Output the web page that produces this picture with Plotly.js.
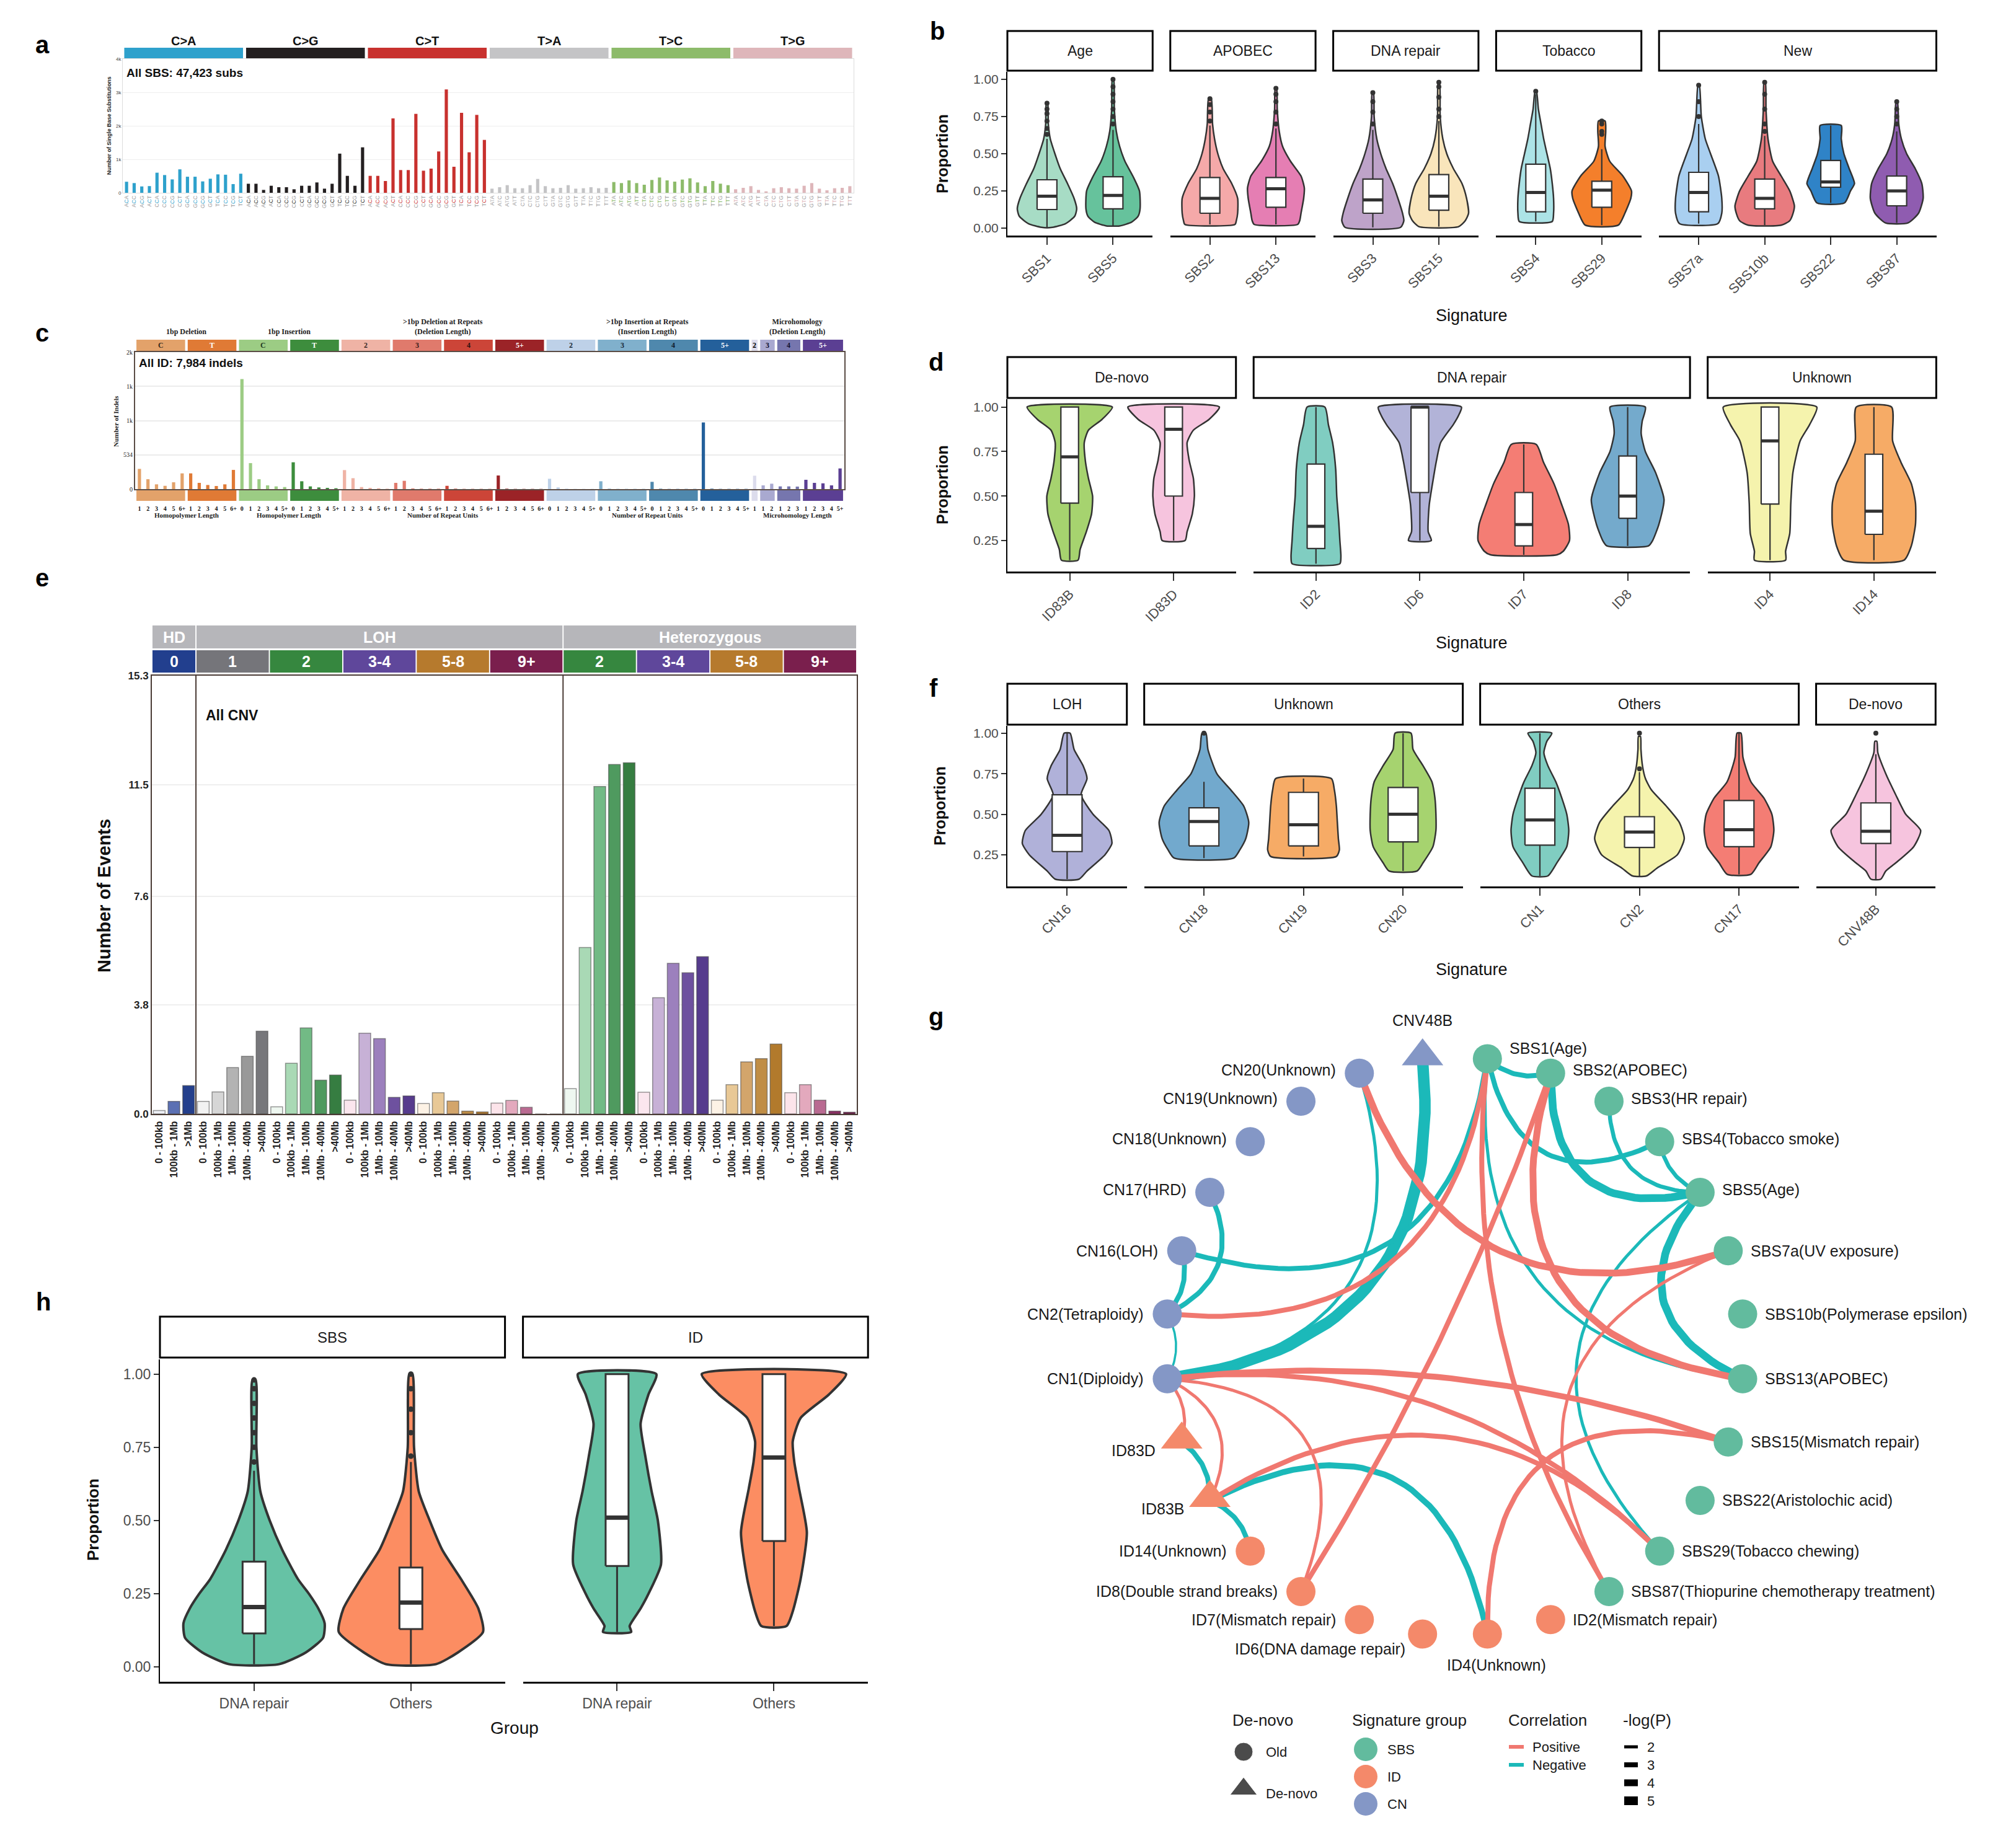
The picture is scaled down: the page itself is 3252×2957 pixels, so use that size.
<!DOCTYPE html>
<html><head><meta charset="utf-8">
<script src="https://cdn.plot.ly/plotly-3.0.1.min.js"></script>
<style>html,body{margin:0;padding:0;background:#fff}</style>
</head><body>
<div id="fig" style="width:3252px;height:2957px"></div>
<script>
// ======================= DATA =======================
// Panel a : SBS96 profile (counts)
const sbsTypes=['C>A','C>G','C>T','T>A','T>C','T>G'];
const sbsColors=['#2ea1cc','#231f20','#c8312e','#c4c4c6','#8dbb6a','#deb6ba'];
const sbsCA=[330,290,190,200,600,530,400,700,480,480,340,420,550,540,260,570];
const sbsCG=[270,270,86,210,167,167,105,210,210,309,123,270,1170,506,210,1358];
const sbsCT=[506,506,352,2222,679,679,2358,660,722,1235,3086,778,2389,1210,2327,1580];
const sbsTA=[123,167,228,136,136,228,414,198,136,148,228,123,136,167,136,148];
const sbsTC=[321,290,370,290,241,383,457,370,333,395,432,309,198,352,272,228];
const sbsTG=[105,148,198,86,43,136,167,136,123,210,290,123,74,136,148,198];
const bases=['A','C','G','T'];

// Panel c : ID83 profile (counts)
const idGroupLabels=['C','T','C','T','2','3','4','5+','2','3','4','5+','2','3','4','5+'];
const idGroupColors=['#e3a26a','#e07a35','#9ccc84','#3d8d3d','#efb3a5','#e07a6c','#cc4538','#9b2327','#bed1e8','#80b0cc','#4f88ad','#24609b','#dcdcec','#a9a9d0','#7676ae','#5b3f93'];
const idGroupTextColors=['#3a2a1a','#ffffff','#1f3a1f','#ffffff','#3a2a2a','#3a1a1a','#2a1010','#ffffff','#1a2a3a','#1a2a3a','#101a2a','#ffffff','#000000','#101030','#101030','#ffffff'];
const idDelC=[315,154,74,51,106,245];
const idDelT=[245,97,64,48,74,299];
const idInsC=[1715,405,154,58,42,32];
const idInsT=[418,122,42,26,19,13];
const idDelR2=[296,170,32,19,13,6];
const idDelR3=[97,129,10,6,6,6];
const idDelR4=[51,6,3,3,3,3];
const idDelR5=[212,6,3,3,3,3];
const idInsR2=[161,26,6,3,3,3];
const idInsR3=[122,6,3,3,3,3];
const idInsR4=[113,6,3,3,3,3];
const idInsR5=[1039,6,3,3,3,3];
const idMH2=[209];
const idMH3=[58,84];
const idMH4=[42,42,39];
const idMH5=[145,97,90,58,322];
const idTickDel=['1','2','3','4','5','6+'];
const idTickIns=['0','1','2','3','4','5+'];
const idTickMH=[['1'],['1','2'],['1','2','3'],['1','2','3','4','5+']];
const idHeaders=['1bp Deletion','1bp Insertion','>1bp Deletion at Repeats<br>(Deletion Length)','>1bp Insertion at Repeats<br>(Insertion Length)','Microhomology<br>(Deletion Length)'];
const idFooters=['Homopolymer Length','Homopolymer Length','Number of Repeat Units','Number of Repeat Units','Microhomology Length'];
const idYTickVals=[0,534,1068,1602,2136];
const idYTickText=['0','534','1k','1k','2k'];

// Panel e : CNV48 profile (events)
const cnvTop=['HD','LOH','Heterozygous'];
const cnvTopSizes=[1,5,4];
const cnvCN=['0','1','2','3-4','5-8','9+','2','3-4','5-8','9+'];
const cnvCNColors=['#223f8e','#75757a','#36873f','#5f479b','#b67a2d','#7a1f4d','#36873f','#5f479b','#b67a2d','#7a1f4d'];
const cnvHD=[0.12,0.44,0.99];
const cnvLOH1=[0.44,0.77,1.62,2.01,2.89];
const cnvLOH2=[0.25,1.77,3.0,1.18,1.36];
const cnvLOH34=[0.48,2.82,2.63,0.58,0.63];
const cnvLOH58=[0.36,0.74,0.45,0.10,0.07];
const cnvLOH9=[0.38,0.47,0.23,0,0];
const cnvHet2=[0.88,5.81,11.43,12.2,12.26];
const cnvHet34=[0.76,4.06,5.26,4.93,5.49];
const cnvHet58=[0.48,1.02,1.82,1.93,2.44];
const cnvHet9=[0.74,1.02,0.48,0.10,0.06];
const cnvShHD=['#eef0f6','#5b70b3','#243f8c'];
const cnvShGrey=['#f2f2f2','#d6d6d6','#b3b3b3','#999999','#77777b'];
const cnvShGreen=['#eef7f0','#a9d9b5','#72ba85','#4f9a5f','#367d41'];
const cnvShPurple=['#fbe6ee','#c7b1d6','#9c80bd','#6e519f','#563b8d'];
const cnvShOrange=['#fdf2e5','#e8c896','#d3a56b','#c08d45','#b27a2c'];
const cnvShMaroon=['#fce4ea','#e3a9bd','#b96a91','#8a2e62','#6e1a48'];
const cnvSizesHD=['0 - 100kb','100kb - 1Mb','>1Mb'];
const cnvSizes=['0 - 100kb','100kb - 1Mb','1Mb - 10Mb','10Mb - 40Mb','>40Mb'];
const cnvYTicks=[0,3.8,7.6,11.5,15.3];

// Panel b : SBS signature proportions (violin outlines)
const bGroups=['Age','APOBEC','DNA repair','Tobacco','New'];
const bSizes=[2,2,2,2,4];
const bNames=['SBS1','SBS5','SBS2','SBS13','SBS3','SBS15','SBS4','SBS29','SBS7a','SBS10b','SBS22','SBS87'];
const bFill=['#a7dcc5','#66c29c','#f5a9a9','#e57eb3','#bea3c9','#f9e5bb','#ace3e6','#f47f2b','#a9cff0','#e87b7f','#2f83c7','#8f5cb0'];
const bProfY=[
 [0.005,0.03,0.08,0.13,0.2,0.3,0.4,0.5,0.6,0.7,0.84],
 [0.015,0.04,0.08,0.13,0.25,0.35,0.45,0.55,0.65,0.8,1.0],
 [0.025,0.05,0.1,0.2,0.3,0.4,0.5,0.6,0.7,0.87],
 [0.025,0.05,0.1,0.2,0.27,0.35,0.45,0.55,0.65,0.8,0.94],
 [0.005,0.05,0.1,0.2,0.3,0.4,0.5,0.6,0.75,0.91],
 [0.01,0.05,0.1,0.2,0.3,0.4,0.5,0.6,0.75,0.98],
 [0.045,0.1,0.2,0.3,0.4,0.5,0.6,0.7,0.8,0.92],
 [0.02,0.1,0.2,0.25,0.35,0.45,0.55,0.65,0.72],
 [0.03,0.1,0.2,0.35,0.5,0.6,0.75,0.96],
 [0.02,0.05,0.1,0.15,0.25,0.35,0.45,0.6,0.8,0.98],
 [0.17,0.25,0.3,0.4,0.5,0.6,0.69],
 [0.035,0.1,0.2,0.3,0.4,0.5,0.6,0.7,0.85]];
const bProfW=[
 [0.08,0.28,0.42,0.45,0.41,0.31,0.2,0.12,0.05,0.02,0.01],
 [0.1,0.28,0.38,0.41,0.4,0.3,0.18,0.1,0.05,0.02,0.01],
 [0.38,0.4,0.42,0.42,0.33,0.2,0.12,0.07,0.04,0.02],
 [0.33,0.36,0.38,0.42,0.43,0.38,0.22,0.1,0.05,0.02,0.01],
 [0.42,0.47,0.45,0.38,0.3,0.2,0.12,0.06,0.02,0.01],
 [0.3,0.4,0.45,0.42,0.35,0.22,0.12,0.06,0.02,0.01],
 [0.25,0.27,0.27,0.25,0.22,0.17,0.12,0.08,0.04,0.01],
 [0.25,0.35,0.44,0.45,0.32,0.12,0.05,0.06,0.05],
 [0.29,0.35,0.35,0.3,0.18,0.1,0.04,0.01],
 [0.25,0.38,0.43,0.45,0.38,0.25,0.12,0.05,0.02,0.01],
 [0.21,0.3,0.36,0.28,0.2,0.16,0.16],
 [0.17,0.33,0.4,0.38,0.28,0.15,0.07,0.03,0.01]];
const bBox=[[0.005,0.125,0.215,0.325,0.6],[0.015,0.13,0.22,0.345,0.66],[0.025,0.1,0.2,0.34,0.69],[0.025,0.14,0.265,0.34,0.67],[0.005,0.1,0.19,0.33,0.66],[0.01,0.12,0.215,0.36,0.72],[0.045,0.11,0.24,0.43,0.9],[0.02,0.14,0.255,0.315,0.53],[0.03,0.11,0.24,0.375,0.7],[0.02,0.13,0.2,0.33,0.62],[0.17,0.275,0.31,0.455,0.69],[0.035,0.15,0.25,0.35,0.65]];
const bOut=[[0.63,0.67,0.72,0.77,0.8,0.84],[0.7,0.75,0.8,0.85,0.9,0.95,1.0],[0.72,0.78,0.83,0.87],[0.7,0.78,0.85,0.9,0.94],[0.7,0.78,0.85,0.91],[0.75,0.8,0.88,0.95,0.98],[0.92],[0.63,0.65,0.7,0.72],[0.75,0.85,0.96],[0.65,0.7,0.8,0.9,0.98],[],[0.7,0.75,0.8,0.85]];

// Panel d : ID signature proportions
const dGroups=['De-novo','DNA repair','Unknown'];
const dSizes=[2,4,2];
const dNames=['ID83B','ID83D','ID2','ID6','ID7','ID8','ID4','ID14'];
const dFill=['#a6d36f','#f6c4de','#80cdc1','#b2b3d8','#f47d74','#74aacc','#f5f3ad','#f6ab66'];
const dProfY=[
 [0.14,0.2,0.3,0.4,0.5,0.6,0.7,0.8,0.87,0.93,1.0],
 [0.25,0.3,0.4,0.5,0.6,0.7,0.8,0.87,0.93,1.0],
 [0.12,0.16,0.25,0.35,0.5,0.65,0.8,0.9,1.0],
 [0.25,0.3,0.45,0.6,0.7,0.8,0.9,0.95,1.0],
 [0.17,0.19,0.25,0.34,0.46,0.57,0.69,0.79],
 [0.22,0.25,0.34,0.48,0.63,0.75,0.85,0.92,1.0],
 [0.14,0.19,0.29,0.46,0.63,0.81,0.9,1.0],
 [0.14,0.22,0.34,0.46,0.57,0.69,0.81,1.0]];
const dProfW=[
 [0.08,0.1,0.16,0.21,0.22,0.18,0.15,0.14,0.18,0.31,0.41],
 [0.11,0.13,0.18,0.2,0.19,0.15,0.13,0.19,0.34,0.44],
 [0.23,0.24,0.23,0.22,0.2,0.19,0.16,0.12,0.085],
 [0.11,0.08,0.09,0.13,0.16,0.2,0.32,0.37,0.4],
 [0.32,0.38,0.44,0.43,0.36,0.29,0.19,0.12],
 [0.2,0.24,0.3,0.35,0.27,0.17,0.13,0.14,0.17],
 [0.15,0.15,0.19,0.2,0.22,0.29,0.38,0.45],
 [0.29,0.36,0.4,0.4,0.36,0.26,0.18,0.17]];
const dBox=[[0.14,0.46,0.72,1,1],[0.25,0.5,0.875,1,1],[0.12,0.205,0.33,0.68,1],[0.25,0.52,1,1,1],[0.17,0.22,0.34,0.52,0.79],[0.22,0.375,0.5,0.725,1],[0.14,0.455,0.81,1,1],[0.14,0.285,0.415,0.735,1]];
const dOut=[[],[],[],[],[],[],[],[]];

// Panel f : CN signature proportions
const fGroups=['LOH','Unknown','Others','De-novo'];
const fSizes=[1,3,3,1];
const fNames=['CN16','CN18','CN19','CN20','CN1','CN2','CN17','CNV48B'];
const fFill=['#b0b1d9','#72a9cd','#f6ab66','#a6d36f','#80cdc1','#f5f3ad','#f47d74','#f6c4de'];
const fProfY=[
 [0.1,0.15,0.25,0.32,0.4,0.5,0.62,0.72,0.8,0.9,1.0],
 [0.23,0.28,0.35,0.45,0.55,0.65,0.75,0.9,1.0],
 [0.24,0.28,0.35,0.45,0.55,0.65,0.72],
 [0.15,0.2,0.3,0.4,0.5,0.6,0.7,0.8,0.9,1.0],
 [0.12,0.2,0.3,0.4,0.5,0.6,0.7,0.8,0.88,0.95,1.0],
 [0.12,0.17,0.25,0.35,0.45,0.55,0.65,0.72,0.8,0.9,0.98],
 [0.13,0.2,0.3,0.4,0.5,0.6,0.7,0.85,1.0],
 [0.1,0.15,0.2,0.3,0.4,0.5,0.62,0.75,0.88,0.95]];
const fProfW=[
 [0.12,0.2,0.38,0.45,0.42,0.26,0.14,0.2,0.16,0.07,0.03],
 [0.3,0.36,0.42,0.45,0.4,0.27,0.13,0.04,0.02],
 [0.33,0.36,0.35,0.34,0.33,0.31,0.28],
 [0.14,0.2,0.3,0.33,0.33,0.32,0.29,0.2,0.1,0.08],
 [0.08,0.17,0.27,0.29,0.27,0.22,0.16,0.08,0.04,0.07,0.12],
 [0.07,0.18,0.38,0.45,0.4,0.27,0.12,0.06,0.03,0.015,0.01],
 [0.12,0.2,0.32,0.35,0.33,0.25,0.12,0.04,0.02],
 [0.05,0.1,0.2,0.38,0.45,0.3,0.2,0.1,0.02,0.01]];
const fBox=[[0.1,0.27,0.37,0.62,1],[0.23,0.305,0.455,0.54,0.7],[0.24,0.305,0.435,0.635,0.72],[0.15,0.33,0.5,0.665,1],[0.12,0.31,0.465,0.66,1],[0.12,0.295,0.39,0.485,0.76],[0.13,0.3,0.405,0.585,1],[0.1,0.32,0.395,0.57,0.87]];
const fOut=[[],[1.0],[],[],[],[0.78,1.0],[],[1.0]];

// Panel h : DNA repair vs others
const hGroups=['SBS','ID'];
const hSizes=[2,2];
const hNames=['DNA repair','Others','DNA repair','Others'];
const hFill=['#66c2a5','#fc8d62','#66c2a5','#fc8d62'];
const hProfY=[
 [0.01,0.05,0.1,0.15,0.2,0.25,0.3,0.4,0.5,0.6,0.75,0.98],
 [0.01,0.05,0.12,0.2,0.3,0.4,0.5,0.6,0.75,1.0],
 [0.12,0.14,0.2,0.25,0.35,0.5,0.6,0.72,0.83,0.93,1.0],
 [0.14,0.19,0.3,0.46,0.61,0.7,0.77,0.85,0.93,1.0]];
const hProfW=[
 [0.16,0.33,0.44,0.45,0.41,0.35,0.28,0.18,0.1,0.04,0.015,0.01],
 [0.16,0.3,0.46,0.43,0.32,0.2,0.12,0.05,0.02,0.01],
 [0.09,0.08,0.15,0.2,0.28,0.26,0.22,0.18,0.15,0.2,0.25],
 [0.08,0.12,0.17,0.21,0.16,0.13,0.12,0.17,0.35,0.46]];
const hBox=[[0.01,0.115,0.205,0.36,0.67],[0.01,0.13,0.22,0.34,0.7],[0.12,0.345,0.51,1,1],[0.14,0.43,0.715,1,1]];
const hOut=[[0.7,0.75,0.8,0.85,0.9,0.95,0.98],[0.72,0.8,0.88,0.95,1.0],[],[]];

// Panel g : correlation network
const gIds=['SBS1','SBS2','SBS3','SBS4','SBS5','SBS7a','SBS10b','SBS13','SBS15','SBS22','SBS29','SBS87','ID2','ID4','ID6','ID7','ID8','ID14','ID83B','ID83D','CN1','CN2','CN16','CN17','CN18','CN19','CN20','CNV48B'];
const gLabels=['SBS1(Age)','SBS2(APOBEC)','SBS3(HR repair)','SBS4(Tobacco smoke)','SBS5(Age)','SBS7a(UV exposure)','SBS10b(Polymerase epsilon)','SBS13(APOBEC)','SBS15(Mismatch repair)','SBS22(Aristolochic acid)','SBS29(Tobacco chewing)','SBS87(Thiopurine chemotherapy treatment)','ID2(Mismatch repair)','ID4(Unknown)','ID6(DNA damage repair)','ID7(Mismatch repair)','ID8(Double strand breaks)','ID14(Unknown)','ID83B','ID83D','CN1(Diploidy)','CN2(Tetraploidy)','CN16(LOH)','CN17(HRD)','CN18(Unknown)','CN19(Unknown)','CN20(Unknown)','CNV48B'];
const gDeNovo=['ID83B','ID83D','CNV48B'];
const edgeFrom=['SBS1','CN1','CN20','SBS1','CN17','CN16','CN2','SBS1','SBS3','SBS4','SBS2','SBS5','SBS5','SBS1','ID83D','ID83B','ID83B','CN20','CN2','SBS2','SBS1','SBS2','CN1','CN1','CN1','CN1','CN1','ID83B','ID4','SBS7a'];
const edgeTo=['SBS2','CNV48B','CN1','CN16','CN2','CN2','CN1','SBS4','SBS5','SBS5','SBS5','SBS13','SBS29','SBS13','ID83B','ID14','ID4','SBS7a','SBS1','ID8','SBS87','SBS13','SBS15','SBS29','ID83D','ID83B','ID8','SBS29','SBS15','SBS87'];
const edgeSign=[-1,-1,-1,-1,-1,-1,-1,-1,-1,-1,-1,-1,-1,-1,-1,-1,-1,1,1,1,1,1,1,1,1,1,1,1,1,1];
const edgeLogP=[3,6.5,2,3,3,3,1.5,3,2.5,2.5,4.5,4.5,2,2,3,3,3.5,4,3,3,3,4,3.5,3,2,2,2,3,3,2];
const logPLegend=[2,3,4,5];

// ======================= BUILD =======================
const W=3252,H=2957;
const FONT='Liberation Sans, Arial, Helvetica, sans-serif';
const SERIF='Liberation Serif, Times New Roman, serif';
const px=x=>x/W, py=y=>1-y/H;
const layout={width:W,height:H,margin:{l:0,r:0,t:0,b:0,pad:0},paper_bgcolor:'#fff',plot_bgcolor:'rgba(0,0,0,0)',showlegend:false,barmode:'overlay',font:{family:FONT,color:'#1a1a1a'},shapes:[],annotations:[]};
const traces=[];
let nX=0,nY=0;
function key(id){return (id[0]==='x'?'xaxis':'yaxis')+id.slice(1);}
function newY(o){nY++;const id='y'+(nY===1?'':nY);layout[key(id)]=Object.assign({fixedrange:true,showgrid:false,zeroline:false,autorange:false},o);return id;}
function newX(o){nX++;const id='x'+(nX===1?'':nX);layout[key(id)]=Object.assign({fixedrange:true,showgrid:false,zeroline:false,autorange:false},o);return id;}
function ann(x,y,text,o){layout.annotations.push(Object.assign({xref:'paper',yref:'paper',x:px(x),y:py(y),text:text,showarrow:false,xanchor:'center',yanchor:'middle',font:{size:20,family:FONT,color:'#1a1a1a'}},o||{}));}
function annA(o){layout.annotations.push(Object.assign({showarrow:false,xanchor:'center',yanchor:'middle'},o));}
function rectP(x0,x1,y0,y1,fill,line,lw){layout.shapes.push({type:'rect',xref:'paper',yref:'paper',x0:px(x0),x1:px(x1),y0:py(y1),y1:py(y0),fillcolor:fill,line:{color:line||fill,width:lw||0}});}

// panel letters
[['a',68,72],['b',1512,50],['c',68,537],['d',1510,584],['e',68,932],['f',1506,1110],['g',1510,1640],['h',70,2100]].forEach(l=>ann(l[1],l[2],'<b>'+l[0]+'</b>',{font:{size:40,family:FONT,color:'#000'}}));

// ---------- Panel a ----------
(function(){
  const sbsVals=[sbsCA,sbsCG,sbsCT,sbsTA,sbsTC,sbsTG];
  const tv=[],tt=[];
  const ya=newY({domain:[py(311),py(95)],range:[0,4000],tickvals:[0,1000,2000,3000,4000],ticktext:['0','1k','2k','3k','4k'],tickfont:{size:8,color:'#444'},showgrid:true,gridcolor:'#eeeeee',showline:true,mirror:true,linecolor:'#dcdcdc',linewidth:1,ticks:''});
  const xa=newX({domain:[px(198),px(1377)],range:[-0.5,95.5],anchor:ya,tickmode:'array',tickvals:tv,ticktext:tt,tickangle:-90,tickfont:{size:9,color:'#9a9a9a'},showline:true,mirror:true,linecolor:'#dcdcdc',linewidth:1,ticks:''});
  layout[key(ya)].anchor=xa;
  sbsTypes.forEach((t,ti)=>{
    const ref=t[0],xs=[];let c=0;
    bases.forEach(b5=>bases.forEach(b3=>{
      const xv=ti*16+c;xs.push(xv);tv.push(xv);
      tt.push(b5+'<span style="color:'+sbsColors[ti]+'">'+ref+'</span>'+b3);c++;
    }));
    traces.push({type:'bar',x:xs,y:sbsVals[ti],xaxis:xa,yaxis:ya,width:0.42,marker:{color:sbsColors[ti],line:{width:0}},hoverinfo:'skip'});
    layout.shapes.push({type:'rect',xref:xa,yref:'paper',x0:ti*16-0.5+0.2,x1:ti*16+15.5-0.2,y0:py(94),y1:py(77),fillcolor:sbsColors[ti],line:{width:0}});
    annA({xref:xa,yref:'paper',x:ti*16+7.5,y:py(66),text:'<b>'+t+'</b>',font:{size:20,family:FONT,color:'#111'}});
  });
  ann(202,118,'<b>All SBS: 47,423 subs</b>',{xanchor:'left',font:{size:19,family:FONT,color:'#111'}});
  ann(176,203,'<b>Number of Single Base Substitutions</b>',{textangle:-90,font:{size:9,family:FONT,color:'#222'}});
})();

// ---------- Panel c ----------
(function(){
  const groups=[idDelC,idDelT,idInsC,idInsT,idDelR2,idDelR3,idDelR4,idDelR5,idInsR2,idInsR3,idInsR4,idInsR5,idMH2,idMH3,idMH4,idMH5];
  const tickSets=[idTickDel,idTickDel,idTickIns,idTickIns,idTickDel,idTickDel,idTickDel,idTickDel,idTickIns,idTickIns,idTickIns,idTickIns].concat(idTickMH);
  const tv=[],tt=[];
  const yc=newY({domain:[py(789),py(568)],range:[0,2136],tickvals:idYTickVals,ticktext:idYTickText,tickfont:{size:10,family:SERIF,color:'#222'},showgrid:true,gridcolor:'#ececec',gridwidth:2,showline:true,mirror:true,linecolor:'#5b4d46',linewidth:2,ticks:''});
  const xc=newX({domain:[px(218),px(1362)],range:[-0.5,82.5],anchor:yc,tickmode:'array',tickvals:tv,ticktext:tt,tickfont:{size:10,family:SERIF,color:'#111'},showline:true,mirror:true,linecolor:'#5b4d46',linewidth:2,ticks:'outside',ticklen:21,tickcolor:'rgba(0,0,0,0)'});
  layout[key(yc)].anchor=xc;
  let k=0;const starts=[];
  groups.forEach((g,gi)=>{
    const xs=g.map((_,i)=>k+i);starts.push(k);
    xs.forEach((xv,i)=>{tv.push(xv);tt.push('<b>'+tickSets[gi][i]+'</b>');});
    traces.push({type:'bar',x:xs,y:g,xaxis:xc,yaxis:yc,width:0.38,marker:{color:idGroupColors[gi],line:{width:0}},hoverinfo:'skip'});
    const x0=k-0.5+0.15,x1=k+g.length-0.5-0.15;
    layout.shapes.push({type:'rect',xref:xc,yref:'paper',x0:x0,x1:x1,y0:py(566),y1:py(548),fillcolor:idGroupColors[gi],line:{width:0}});
    layout.shapes.push({type:'rect',xref:xc,yref:'paper',x0:x0,x1:x1,y0:py(808),y1:py(791),fillcolor:idGroupColors[gi],line:{width:0}});
    annA({xref:xc,yref:'paper',x:(x0+x1)/2,y:py(557),text:'<b>'+idGroupLabels[gi]+'</b>',font:{size:12,family:SERIF,color:idGroupTextColors[gi]}});
    k+=g.length;
  });
  const hdrCenters=[(starts[0]+starts[2]-1)/2,(starts[2]+starts[4]-1)/2,(starts[4]+starts[8]-1)/2,(starts[8]+starts[12]-1)/2,(starts[12]+k-1)/2];
  idHeaders.forEach((h,i)=>annA({xref:xc,yref:'paper',x:hdrCenters[i],y:py(544),yanchor:'bottom',text:'<b>'+h+'</b>',font:{size:12,family:SERIF,color:'#222'}}));
  idFooters.forEach((h,i)=>annA({xref:xc,yref:'paper',x:hdrCenters[i],y:py(831),text:'<b>'+h+'</b>',font:{size:11,family:SERIF,color:'#222'}}));
  ann(222,585,'<b>All ID: 7,984 indels</b>',{xanchor:'left',font:{size:19,family:FONT,color:'#111'}});
  ann(187,680,'<b>Number of Indels</b>',{textangle:-90,font:{size:11,family:SERIF,color:'#222'}});
})();

// ---------- Panel e ----------
(function(){
  const groups=[cnvHD,cnvLOH1,cnvLOH2,cnvLOH34,cnvLOH58,cnvLOH9,cnvHet2,cnvHet34,cnvHet58,cnvHet9];
  const shades=[cnvShHD,cnvShGrey,cnvShGreen,cnvShPurple,cnvShOrange,cnvShMaroon,cnvShGreen,cnvShPurple,cnvShOrange,cnvShMaroon];
  const tv=[],tt=[];
  const ye=newY({domain:[py(1797),py(1090)],range:[0,15.3],tickvals:cnvYTicks,ticktext:cnvYTicks.map(v=>'<b>'+v.toFixed(1)+'</b>'),tickfont:{size:17,family:FONT,color:'#222'},showgrid:true,gridcolor:'#efefef',gridwidth:2,showline:true,mirror:true,linecolor:'#4a3b35',linewidth:2,ticks:''});
  const xe=newX({domain:[px(245),px(1382)],range:[-0.5,47.5],anchor:ye,tickmode:'array',tickvals:tv,ticktext:tt,tickangle:-90,tickfont:{size:16,family:FONT,color:'#222'},showline:true,mirror:true,linecolor:'#4a3b35',linewidth:2,ticks:'outside',ticklen:3,tickcolor:'rgba(0,0,0,0)'});
  layout[key(ye)].anchor=xe;
  let k=0;const gStart=[];
  groups.forEach((g,gi)=>{
    const xs=g.map((_,i)=>k+i);gStart.push(k);
    const labs=g.length===3?cnvSizesHD:cnvSizes;
    xs.forEach((xv,i)=>{tv.push(xv);tt.push('<b>'+labs[i]+'</b>');});
    traces.push({type:'bar',x:xs,y:g,xaxis:xe,yaxis:ye,width:0.8,marker:{color:shades[gi],line:{width:1.5,color:'rgba(70,70,70,0.55)'}},hoverinfo:'skip'});
    layout.shapes.push({type:'rect',xref:xe,yref:'paper',x0:k-0.5+0.04,x1:k+g.length-0.5-0.04,y0:py(1085),y1:py(1049),fillcolor:cnvCNColors[gi],line:{width:0}});
    annA({xref:xe,yref:'paper',x:k+(g.length-1)/2,y:py(1067),text:'<b>'+cnvCN[gi]+'</b>',font:{size:25,family:FONT,color:'#fff'}});
    k+=g.length;
  });
  let gi=0;
  cnvTop.forEach((t,ti)=>{
    const a=gStart[gi],bEnd=(gi+cnvTopSizes[ti]<groups.length?gStart[gi+cnvTopSizes[ti]]:k);
    layout.shapes.push({type:'rect',xref:xe,yref:'paper',x0:a-0.5+0.04,x1:bEnd-0.5-0.04,y0:py(1046),y1:py(1009),fillcolor:'#b6b6ba',line:{width:0}});
    annA({xref:xe,yref:'paper',x:(a+bEnd-1)/2,y:py(1028),text:'<b>'+t+'</b>',font:{size:25,family:FONT,color:'#fff'}});
    if(ti>0) layout.shapes.push({type:'line',xref:xe,yref:'paper',x0:a-0.5,x1:a-0.5,y0:py(1797),y1:py(1090),line:{color:'#4a3b35',width:2}});
    gi+=cnvTopSizes[ti];
  });
  ann(330,1154,'<b>All CNV</b>',{xanchor:'left',font:{size:23,family:FONT,color:'#111'}});
  ann(168,1445,'<b>Number of Events</b>',{textangle:-90,font:{size:29,family:FONT,color:'#111'}});
})();

// ---------- violin helpers ----------
function drawViolin(xid,yid,pos,Y,Wd,fill,lw){
  const xs=[],ys=[];
  for(let i=0;i<Y.length;i++){xs.push(pos+Wd[i]);ys.push(Y[i]);}
  for(let i=Y.length-1;i>=0;i--){xs.push(pos-Wd[i]);ys.push(Y[i]);}
  xs.push(xs[0]);ys.push(ys[0]);
  traces.push({type:'scatter',mode:'lines',x:xs,y:ys,xaxis:xid,yaxis:yid,fill:'toself',fillcolor:fill,line:{color:'#333',width:lw,shape:'spline',smoothing:0.6},hoverinfo:'skip'});
}
function drawBox(xid,yid,pos,b,hw,lw,mw){
  traces.push({type:'scatter',mode:'lines',x:[pos,pos,null,pos,pos],y:[b[0],b[1],null,b[3],b[4]],xaxis:xid,yaxis:yid,line:{color:'#333',width:lw},hoverinfo:'skip'});
  traces.push({type:'scatter',mode:'lines',x:[pos-hw,pos+hw,pos+hw,pos-hw,pos-hw],y:[b[1],b[1],b[3],b[3],b[1]],xaxis:xid,yaxis:yid,fill:'toself',fillcolor:'#fff',line:{color:'#333',width:lw},hoverinfo:'skip'});
  traces.push({type:'scatter',mode:'lines',x:[pos-hw,pos+hw],y:[b[2],b[2]],xaxis:xid,yaxis:yid,line:{color:'#333',width:mw},hoverinfo:'skip'});
}
function violinPanel(o){
  const yid=newY({domain:[py(o.yBot),py(o.yTop)],range:o.yRange,tickvals:[0,0.25,0.5,0.75,1],ticktext:['0.00','0.25','0.50','0.75','1.00'],ticks:'outside',ticklen:8,tickwidth:2,tickcolor:'#333',tickfont:{size:o.ytSize,family:FONT,color:'#4d4d4d'},showline:true,linecolor:'#000',linewidth:2});
  let left=o.x0,k=0;
  o.groups.forEach((g,gi)=>{
    const n=o.sizes[gi],wpx=(n+0.2)*o.unit;
    const names=o.names.slice(k,k+n);
    const xid=newX({domain:[px(left),px(left+wpx)],range:[0.4,n+0.6],anchor:yid,tickmode:'array',tickvals:names.map((_,i)=>i+1),ticktext:names,tickangle:o.tickAngle,ticks:'outside',ticklen:12,tickwidth:2,tickcolor:'#333',tickfont:{size:o.xtSize,family:FONT,color:'#4d4d4d'},showline:true,linecolor:'#000',linewidth:o.xlw});
    if(gi===0) layout[key(yid)].anchor=xid;
    for(let i=0;i<n;i++){
      const j=k+i,pos=i+1;
      drawViolin(xid,yid,pos,o.profY[j],o.profW[j],o.fill[j],o.vlw);
      drawBox(xid,yid,pos,o.box[j],o.boxHW,o.blw,o.mw);
      if(o.out[j].length) traces.push({type:'scatter',mode:'markers',x:o.out[j].map(()=>pos),y:o.out[j],xaxis:xid,yaxis:yid,marker:{color:'#333',size:o.outSize},hoverinfo:'skip'});
    }
    rectP(left,left+wpx,o.stripTop,o.stripBot,'#fff','#000',3);
    ann(left+wpx/2,(o.stripTop+o.stripBot)/2,g,{font:{size:o.stripSize,family:FONT,color:'#1a1a1a'}});
    left+=wpx+o.gap;k+=n;
  });
  ann(o.yTitleX,o.yTitleY,'<b>Proportion</b>',{textangle:-90,font:{size:o.titleSize,family:FONT,color:'#111'}});
  ann(o.xTitleX,o.xTitleY,o.xTitle,{font:{size:o.titleSize+2,family:FONT,color:'#111'}});
}
violinPanel({groups:bGroups,sizes:bSizes,names:bNames,fill:bFill,profY:bProfY,profW:bProfW,box:bBox,out:bOut,x0:1625,unit:106.5,gap:28.5,yTop:116,yBot:380,yRange:[-0.05,1.05],stripTop:50,stripBot:114,ytSize:21,xtSize:22,tickAngle:-45,xlw:3,vlw:2.5,boxHW:0.15,blw:2.2,mw:5,outSize:8,stripSize:23,yTitleX:1520,yTitleY:248,xTitleX:2374,xTitleY:509,xTitle:'Signature',titleSize:25});
violinPanel({groups:dGroups,sizes:dSizes,names:dNames,fill:dFill,profY:dProfY,profW:dProfW,box:dBox,out:dOut,x0:1625,unit:167.6,gap:28.5,yTop:644,yBot:922,yRange:[0.076,1.044],stripTop:576,stripBot:642,ytSize:21,xtSize:22,tickAngle:-45,xlw:3,vlw:2.5,boxHW:0.085,blw:2.2,mw:5,outSize:8,stripSize:23,yTitleX:1520,yTitleY:782,xTitleX:2374,xTitleY:1037,xTitle:'Signature',titleSize:25});
violinPanel({groups:fGroups,sizes:fSizes,names:fNames,fill:fFill,profY:fProfY,profW:fProfW,box:fBox,out:fOut,x0:1625,unit:160.6,gap:28,yTop:1171,yBot:1430,yRange:[0.055,1.045],stripTop:1103,stripBot:1169,ytSize:21,xtSize:22,tickAngle:-45,xlw:3,vlw:2.5,boxHW:0.15,blw:2.2,mw:5,outSize:8,stripSize:23,yTitleX:1516,yTitleY:1300,xTitleX:2374,xTitleY:1564,xTitle:'Signature',titleSize:25});
violinPanel({groups:hGroups,sizes:hSizes,names:hNames,fill:hFill,profY:hProfY,profW:hProfW,box:hBox,out:hOut,x0:258,unit:253,gap:29,yTop:2193,yBot:2713,yRange:[-0.05,1.05],stripTop:2124,stripBot:2190,ytSize:23,xtSize:23,tickAngle:0,xlw:3,vlw:4,boxHW:0.073,blw:3,mw:7,outSize:9,stripSize:24,yTitleX:150,yTitleY:2452,xTitleX:830,xTitleY:2787,xTitle:'Group',titleSize:26});

// ---------- Panel g ----------
(function(){
  const xg=newX({domain:[px(1480),px(3252)],range:[1480,3252],visible:false});
  const yg=newY({domain:[py(2957),py(1600)],range:[2957,1600],visible:false,anchor:xg});
  layout[key(xg)].anchor=yg;
  const CX=2347,CY=2172,R=467,N=gIds.length;
  const posX={},posY={},ang={};
  const grpColor={SBS:'#62bb9e',ID:'#f4896a',CN:'#8497c6'};
  const grpOf=id=>id.startsWith('SBS')?'SBS':id.startsWith('ID')?'ID':'CN';
  gIds.forEach((id,k)=>{const th=(90-180/N-k*360/N)*Math.PI/180;ang[id]=th;posX[id]=CX+R*Math.cos(th);posY[id]=CY-R*Math.sin(th);});
  const lw=lp=>3*lp-1;
  edgeFrom.forEach((a,i)=>{
    const b=edgeTo[i];
    const ax=posX[a],ay=posY[a],bx=posX[b],by=posY[b];
    const mx=(ax+bx)/2,my=(ay+by)/2;
    const d=Math.hypot(mx-CX,my-CY)/R,gk=Math.pow(d,10);
    const qx=CX+(mx-CX)*gk,qy=CY+(my-CY)*gk;
    const xs=[],ys=[];
    for(let s=0;s<=40;s++){const t=s/40,u=1-t;xs.push(u*u*ax+2*u*t*qx+t*t*bx);ys.push(u*u*ay+2*u*t*qy+t*t*by);}
    traces.push({type:'scatter',mode:'lines',x:xs,y:ys,xaxis:xg,yaxis:yg,line:{color:edgeSign[i]>0?'#f07870':'#1bb9b9',width:lw(edgeLogP[i])},hoverinfo:'skip'});
  });
  ['circle','triangle-up'].forEach(sym=>{
    const ids=gIds.filter(id=>(gDeNovo.indexOf(id)>=0)===(sym!=='circle'));
    traces.push({type:'scatter',mode:'markers',x:ids.map(id=>posX[id]),y:ids.map(id=>posY[id]+(sym==='circle'?0:-4)),xaxis:xg,yaxis:yg,marker:{symbol:sym,size:sym==='circle'?47:58,color:ids.map(id=>grpColor[grpOf(id)]),line:{width:0}},hoverinfo:'skip'});
  });
  const gA=(x,y,text,o)=>layout.annotations.push(Object.assign({xref:xg,yref:yg,x:x,y:y,text:text,showarrow:false,xanchor:'center',yanchor:'middle',font:{size:25,family:FONT,color:'#1a1a1a'}},o||{}));
  gIds.forEach((id,k)=>{
    const th=ang[id],c=Math.cos(th),s=Math.sin(th),x=posX[id],y=posY[id];
    let lx,ly,xa;
    if(gDeNovo.indexOf(id)>=0&&c<0&&s<0.9){xa='right';lx=x-40;ly=y+14;}
    else if(Math.abs(c)>0.2){xa=c>0?'left':'right';lx=x+(c>0?34:-36);ly=y+(s>0.45?-5:0);}
    else if(s>0){if(c>0){xa='left';lx=x+34;ly=y-17;}else{xa='center';lx=x;ly=y-62;}}
    else{if(c>0){xa='center';lx=x+15;ly=y+50;}else{xa='right';lx=x-26;ly=y+24;}}
    gA(lx,ly,gLabels[k],{xanchor:xa});
  });
  // legend
  const LT={size:26,family:FONT,color:'#1a1a1a'},LI={size:22,family:FONT,color:'#1a1a1a'};
  gA(1986,2775,'De-novo',{xanchor:'left',font:LT});
  gA(2179,2775,'Signature group',{xanchor:'left',font:LT});
  gA(2431,2775,'Correlation',{xanchor:'left',font:LT});
  gA(2616,2775,'-log(P)',{xanchor:'left',font:LT});
  traces.push({type:'scatter',mode:'markers',x:[2006,2006],y:[2826,2886],xaxis:xg,yaxis:yg,marker:{symbol:['circle','triangle-up'],size:[30,38],color:'#000'},hoverinfo:'skip'});
  gA(2040,2826,'Old',{xanchor:'left',font:LI});
  gA(2040,2893,'De-novo',{xanchor:'left',font:LI});
  const grpNames=['SBS','ID','CN'];
  traces.push({type:'scatter',mode:'markers',x:[2203,2203,2203],y:[2822,2866,2910],xaxis:xg,yaxis:yg,marker:{size:38,color:grpNames.map(g=>grpColor[g])},hoverinfo:'skip'});
  grpNames.forEach((g,i)=>gA(2236,2822+44*i,g,{xanchor:'left',font:LI}));
  [['Positive','#f07870'],['Negative','#1bb9b9']].forEach((p,i)=>{
    traces.push({type:'scatter',mode:'lines',x:[2434,2458],y:[2818+29*i,2818+29*i],xaxis:xg,yaxis:yg,line:{color:p[1],width:6},hoverinfo:'skip'});
    gA(2470,2818+29*i,p[0],{xanchor:'left',font:LI});
  });
  logPLegend.forEach((v,i)=>{
    const yy=2818+29*i,h=lw(v);
    layout.shapes.push({type:'rect',xref:xg,yref:yg,x0:2620,x1:2642,y0:yy-h/2,y1:yy+h/2,fillcolor:'#000',line:{width:0}});
    gA(2655,yy,String(v),{xanchor:'left',font:LI});
  });
})();

Plotly.newPlot('fig',traces,layout,{staticPlot:true,displayModeBar:false});
</script>
</body></html>
